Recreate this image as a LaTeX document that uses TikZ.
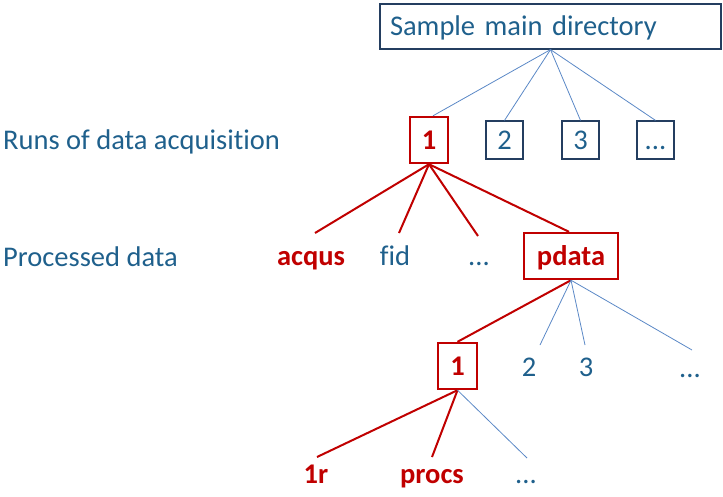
\documentclass[tikz,border=0pt]{standalone}
\usepackage{fontspec}
\setmainfont{Carlito}[Ligatures=NoCommon]
\definecolor{txtblue}{RGB}{31,96,140}
\definecolor{boxblue}{RGB}{36,62,96}
\definecolor{lineblue}{RGB}{90,136,198}
\definecolor{dred}{RGB}{192,0,0}
\newcommand{\fsz}{\fontsize{28.5}{32}\selectfont}
\tikzset{
  every node/.style={font=\fsz, inner sep=0pt},
  bbox/.style={draw=boxblue, line width=1.2pt, text=txtblue, text height=22pt, text depth=4pt, minimum width=37pt, minimum height=38pt},
  rbox/.style={draw=dred, line width=2.4pt, text=dred, font=\fsz\bfseries, text height=22pt, text depth=4pt, minimum height=46pt},
  bleaf/.style={text=txtblue, anchor=base},
  rleaf/.style={text=dred, font=\fsz\bfseries, anchor=base},
  bline/.style={draw=lineblue, line width=0.8pt},
  rline/.style={draw=dred, line width=2pt},
}
\begin{document}
\begin{tikzpicture}[x=1pt,y=-1pt]
\useasboundingbox (0,0) rectangle (723,496);
% top box
\node[draw=boxblue, line width=1.2pt, text=txtblue, text height=22pt, text depth=5pt, minimum width=341pt, minimum height=45pt, text width=321pt, align=left] (top) at (550.5,26.5) {Sample main directory};
% labels
\node[text=txtblue, anchor=base west] (lab1) at (3,149) {Runs of data acquisition};
\node[text=txtblue, anchor=base west] (lab2) at (3,266) {Processed data};
% runs
\node[rbox, minimum width=38pt] (r1) at (429,140) {1};
\node[bbox] (r2) at (504.5,140) {2};
\node[bbox] (r3) at (580.5,140) {3};
\node[bbox] (r4) at (655.5,140) {...};
% processed
\node[rleaf] (acqus) at (311,265) {acqus};
\node[bleaf] (fid) at (395,265) {fid};
\node[bleaf] (pdots) at (479,265) {...};
\node[rbox, minimum width=94pt] (pdata) at (571,256) {pdata};
% pdata children
\node[rbox, minimum width=39pt] (p1) at (457.5,366) {1};
\node[bleaf] (p2) at (529,376) {2};
\node[bleaf] (p3) at (586,376) {3};
\node[bleaf] (p4) at (690,377) {...};
% 1 children
\node[rleaf] (r1r) at (316,483) {1r};
\node[rleaf] (procs) at (432,483) {procs};
\node[bleaf] (qdots) at (526,483) {...};
% connectors
\draw[bline] (top.south) -- ([xshift=4pt]r1.north);
\draw[bline] (top.south) -- (r2.north);
\draw[bline] (top.south) -- (r3.north);
\draw[bline] (top.south) -- (r4.north);
\draw[rline] (r1.south) -- ([xshift=4pt,yshift=32pt]acqus.base);
\draw[rline] (r1.south) -- ([xshift=4pt,yshift=32pt]fid.base);
\draw[rline] (r1.south) -- ([xshift=-1pt,yshift=29pt]pdots.base);
\draw[rline] (r1.south) -- ([xshift=-2pt]pdata.north);
\draw[rline] (pdata.south) -- (p1.north);
\draw[bline] (pdata.south) -- ([xshift=11pt,yshift=31pt]p2.base);
\draw[bline] (pdata.south) -- ([xshift=-1pt,yshift=31pt]p3.base);
\draw[bline] (pdata.south) -- ([xshift=2pt,yshift=27pt]p4.base);
\draw[rline] (p1.south) -- ([xshift=1pt,yshift=26pt]r1r.base);
\draw[rline] (p1.south) -- ([yshift=26pt]procs.base);
\draw[bline] (p1.south) -- ([xshift=1pt,yshift=25pt]qdots.base);
\end{tikzpicture}
\end{document}
